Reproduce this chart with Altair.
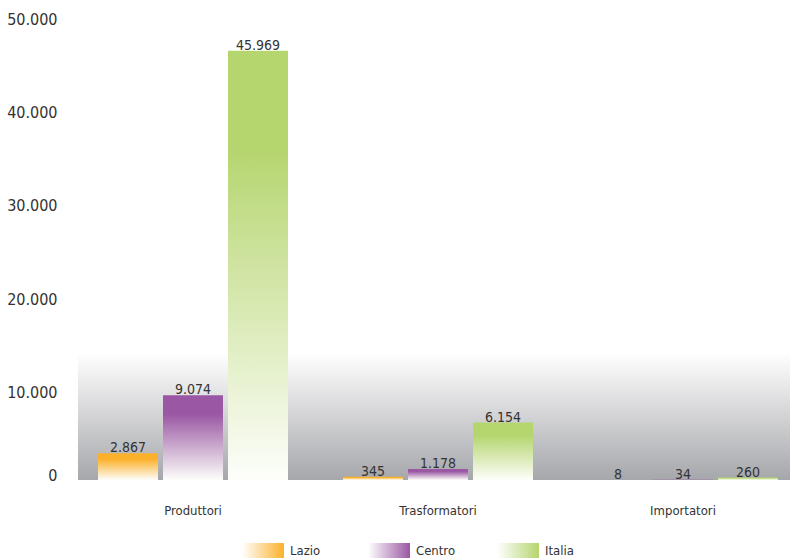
import altair as alt
import pandas as pd

# Operatori biologici per tipologia: Lazio, Centro, Italia
categories = ["Produttori", "Trasformatori", "Importatori"]
series = ["Lazio", "Centro", "Italia"]
lazio = [2867, 345, 8]
centro = [9074, 1178, 34]
italia = [45969, 6154, 260]
y_ticks = [0, 10000, 20000, 30000, 40000, 50000]

base_colors = {"Lazio": "#FBB12B", "Centro": "#9A57A3", "Italia": "#B5D56E"}
FONT = "DejaVu Sans Condensed, DejaVu Sans, sans-serif"
TEXT = "#333333"
W, H = 712, 467

rows = []
for s, vals in zip(series, [lazio, centro, italia]):
    for c, v in zip(categories, vals):
        rows.append({"categoria": c, "area": s, "valore": v,
                     "etichetta": f"{v:,}".replace(",", ".")})
df = pd.DataFrame(rows)

y_scale = alt.Scale(domain=[0, 50000], nice=False)
x_scale = alt.Scale(domain=categories, range=[-7.5, W + 15.5], paddingInner=0, paddingOuter=0)
xo_scale = alt.Scale(domain=series, paddingInner=0.077, paddingOuter=0.423)

x_enc = alt.X("categoria:N", sort=categories, scale=x_scale,
              axis=alt.Axis(title=None, labelAngle=0, domain=False, ticks=False,
                            labelFont=FONT, labelFontSize=13, labelColor=TEXT,
                            labelPadding=24))
y_enc = alt.Y("valore:Q", scale=y_scale,
              axis=alt.Axis(title=None, values=y_ticks, domain=False, ticks=False,
                            grid=False, labelFont=FONT, labelFontSize=16,
                            labelColor=TEXT, labelPadding=21,
                            labelOffset={"condition": {"test": "datum.value === 0", "value": -5},
                                         "value": 6},
                            labelExpr="replace(format(datum.value, ','), ',', '.')"))
xo_enc = alt.XOffset("area:N", scale=xo_scale)


def bar_grad(color):
    # solid colour in the upper part, fading to white at the base
    return alt.LinearGradient(gradient="linear", x1=0, x2=0, y1=0, y2=1,
                              stops=[alt.GradientStop(color=color, offset=0),
                                     alt.GradientStop(color=color, offset=0.22),
                                     alt.GradientStop(color="#FDFEFB", offset=1)])


def band_grad(top, bottom):
    return alt.LinearGradient(gradient="linear", x1=0, x2=0, y1=0, y2=1,
                              stops=[alt.GradientStop(color=top, offset=0),
                                     alt.GradientStop(color=bottom, offset=1)])


def hgrad(left, right):
    return alt.LinearGradient(gradient="linear", x1=0, x2=1, y1=0, y2=0,
                              stops=[alt.GradientStop(color=left, offset=0),
                                     alt.GradientStop(color=right, offset=1)])


# grey shaded band behind the lower part of the plot
band = alt.Chart(pd.DataFrame({"a": [0]})).mark_rect(
    color=band_grad("#FFFFFF", "#A6A7AB")
).encode(x=alt.value(0), x2=alt.value("width"), y=alt.datum(0), y2=alt.datum(13600))

bars = []
for s in series:
    bars.append(
        alt.Chart(df).transform_filter(alt.datum.area == s).mark_bar(
            color=bar_grad(base_colors[s])
        ).encode(x=x_enc, xOffset=xo_enc, y=y_enc)
    )

labels = alt.Chart(df).mark_text(
    baseline="alphabetic", dy=-1, font=FONT, fontSize=14, color=TEXT
).encode(x=x_enc, xOffset=xo_enc, y=y_enc, text="etichetta:N")

# legend with gradient swatches below the axis
legend_layers = []
swatch_x = [164, 290, 419]
for s, x0 in zip(series, swatch_x):
    legend_layers.append(
        alt.Chart(pd.DataFrame({"area": [s]})).mark_rect(
            color=hgrad("#FFFFFF", base_colors[s])
        ).encode(x=alt.value(x0), x2=alt.value(x0 + 42),
                 y=alt.value(H + 63), y2=alt.value(H + 78))
    )
    legend_layers.append(
        alt.Chart(pd.DataFrame({"area": [s]})).mark_text(
            align="left", baseline="middle", font=FONT, fontSize=13, color=TEXT
        ).encode(text="area:N", x=alt.value(x0 + 48), y=alt.value(H + 71))
    )

chart = alt.layer(band, *bars, labels, *legend_layers).properties(
    width=W, height=H,
    autosize=alt.AutoSizeParams(type="none"),
    padding={"left": 78, "top": 13, "right": 0, "bottom": 78},
    background="white",
).configure_view(stroke=None)

chart.save("out.html", embed_options={"renderer": "svg", "actions": False})
